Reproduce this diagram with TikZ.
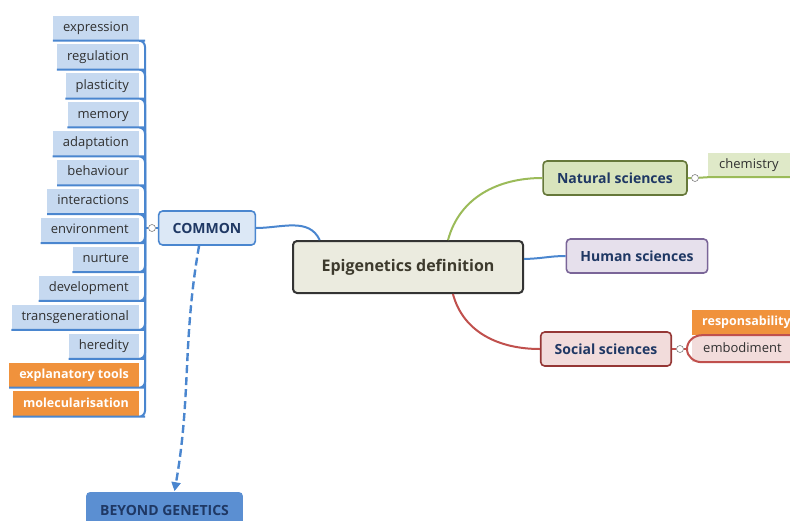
\documentclass[tikz,border=0pt]{standalone}
\usepackage{fontspec}
\setmainfont{Open Sans}
\usetikzlibrary{arrows.meta,positioning}

\definecolor{lineblue}{HTML}{4A86CF}
\definecolor{leafblue}{HTML}{C6D9F0}
\definecolor{orangebox}{HTML}{F0923C}
\definecolor{labelgray}{HTML}{303030}
\definecolor{navy}{HTML}{1F3864}
\definecolor{commonfill}{HTML}{DCE8F6}
\definecolor{deffill}{HTML}{EBEBDF}
\definecolor{natfill}{HTML}{D8E4BC}
\definecolor{natdraw}{HTML}{66783A}
\definecolor{natline}{HTML}{9BBB59}
\definecolor{chemfill}{HTML}{DFE9C8}
\definecolor{humfill}{HTML}{E6E0EC}
\definecolor{humdraw}{HTML}{7A6598}
\definecolor{socfill}{HTML}{F2DCDB}
\definecolor{socdraw}{HTML}{953735}
\definecolor{socline}{HTML}{C0504D}
\definecolor{beyondfill}{HTML}{5B8FD2}

\tikzset{
	leaf/.style={fill=leafblue,minimum height=25pt,inner xsep=10pt,text=labelgray,font=\fontsize{13}{15}\selectfont,text height=9.5pt,text depth=3pt},
	hot/.style={leaf,fill=orangebox,text=white,font=\fontsize{12.5}{15}\selectfont\bfseries},
	topic/.style={draw,rounded corners=4pt,line width=1.6pt,minimum height=34pt,inner xsep=14pt,text=navy,font=\fontsize{14}{16}\selectfont\bfseries},
	fold/.style={circle,draw=gray,fill=white,inner sep=0pt,minimum size=7pt,line width=0.6pt},
	branch/.style={line width=2pt}
}

\begin{document}
\begin{tikzpicture}[x=1pt,y=-1pt]
	\useasboundingbox (0,0) rectangle (790,520);
	\clip (0,0) rectangle (790,520);

	\node[topic,draw=lineblue,fill=commonfill] (common) at (207,228) {COMMON};
	\node[topic,draw=black!80,fill=deffill,line width=2pt,minimum width=230pt,minimum height=52pt,text=black!75!olive,font=\fontsize{16}{18}\selectfont\bfseries] (def) at (408,267) {Epigenetics definition};
	\node[topic,draw=natdraw,fill=natfill] (nat) at (615,178) {Natural sciences};
	\node[topic,draw=humdraw,fill=humfill] (hum) at (637,256) {Human sciences};
	\node[topic,draw=socdraw,fill=socfill] (soc) at (606,349) {Social sciences};
	\node[topic,draw=none,fill=beyondfill,minimum height=36pt,minimum width=155pt] (beyond) at (164.5,510) {BEYOND GENETICS};

	\coordinate (hub) at (145,228);
	\node[fold] (f0) at (152,228) {};
	\foreach \t/\s [count=\n] in {expression/leaf,regulation/leaf,plasticity/leaf,memory/leaf,adaptation/leaf,behaviour/leaf,interactions/leaf,environment/leaf,nurture/leaf,development/leaf,transgenerational/leaf,heredity/leaf,explanatory tools/hot,molecularisation/hot}
		\node[\s,anchor=east] (L\n) at (139,{28+(\n-1)*28.92}) {\t};
	\foreach \n in {1,...,14}
		\draw[branch,lineblue,rounded corners=6pt] (L\n.south west) -- (L\n.south east) -| (hub);
	\draw[branch,lineblue] (hub) -- (f0) -- (common.west);

	\node[leaf,fill=chemfill,anchor=west,minimum height=24pt,inner xsep=11pt] (chem) at (708,165) {chemistry};
	\node[fold] (f1) at (695,178) {};
	\draw[branch,natline] (nat.east) -- (f1) -- (chem.south west) -- (chem.south east);

	\node[hot,anchor=west] (resp) at (692,322.5) {responsability};
	\node[leaf,fill=socfill,anchor=west,minimum height=26pt,inner xsep=11pt] (emb) at (692,349) {embodiment};
	\node[fold] (f3) at (680,349) {};
	\coordinate (sb) at (687,349);
	\draw[branch,socline] (soc.east) -- (f3) -- (sb);
	\draw[branch,socline] (sb) to[out=90,in=180] ([xshift=10pt]resp.south west) -- (resp.south east);
	\draw[branch,socline] (sb) to[out=-90,in=180] ([xshift=10pt]emb.south west) -- (emb.south east);

	\draw[branch,lineblue] (def.163) to[out=115,in=0] (common.east);
	\draw[branch,natline] (def.34) to[out=75,in=180] (nat.west);
	\draw[branch,lineblue] (def.4) to[out=0,in=180] (hum.west);
	\draw[branch,socline] (def.-31) to[out=-75,in=180] (soc.west);
	\draw[branch,lineblue,line width=2.4pt,dash pattern=on 8pt off 4pt,-{Triangle[length=9pt,width=9pt]}] (common.246) to[out=-100,in=80] ([xshift=10pt]beyond.north);
\end{tikzpicture}
\end{document}
